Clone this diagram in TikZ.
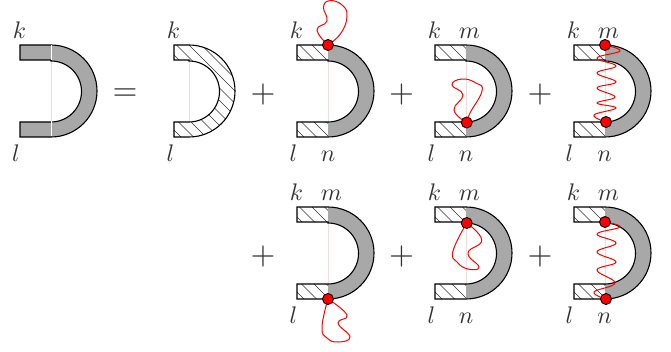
\documentclass[tikz,border=0pt]{standalone}
\usepackage{amsmath}
\definecolor{ink}{HTML}{333333}
\definecolor{fillgray}{HTML}{A8A8A8}
\definecolor{seam}{HTML}{F0DCDC}
\newcommand{\barlen}{31}
\newcommand{\Dpath}{(0,0) -- (\barlen,0) arc (90:-90:46) -- (0,-92) -- (0,-77) -- (\barlen,-77) arc (-90:90:30.5) -- (\barlen,-15) -- (0,-15) -- cycle}
% #1 = left edge x, #2 = top y (image px), #3 = hatch up to x
\newcommand{\Dhatch}[3]{%
  \begin{scope}[shift={(#1,351-#2)}]
    \begin{scope}
      \clip \Dpath;
      \clip (-1,1) rectangle (#3,-93);
      \foreach \t in {-110,-97.5,...,120} \draw[hatchline] (\t,0) -- ++(100,-100);
    \end{scope}
  \end{scope}}
\newcommand{\Dgray}[3]{%
  \begin{scope}[shift={(#1,351-#2)}]
    \begin{scope}
      \clip \Dpath;
      \fill[fillgray] (#3,1) rectangle (90,-93);
    \end{scope}
  \end{scope}}
\newcommand{\Doutline}[2]{%
  \begin{scope}[shift={(#1,351-#2)}]
    \draw[seamline] (\barlen,-15) -- (\barlen,-77);
    \draw[outline] \Dpath;
  \end{scope}}
\newcommand{\Dhalf}[2]{\Dhatch{#1}{#2}{31}\Dgray{#1}{#2}{31}\Doutline{#1}{#2}}
\tikzset{
  x=1pt,y=1pt,
  hatchline/.style={line width=0.6pt,ink},
  seamline/.style={line width=0.4pt,seam},
  outline/.style={line width=1.1pt,black,line join=miter},
  lab/.style={inner sep=0,outer sep=0,anchor=base,text=ink,scale=2.4},
  opr/.style={inner sep=0,outer sep=0,text=ink,scale=3.2},
  vertexdot/.style={circle,draw=black,fill=red,line width=0.9pt,minimum size=11pt,inner sep=0},
  gluon/.style={red,line width=1pt}
}
\begin{document}
\begin{tikzpicture}
\useasboundingbox (0,0) rectangle (671,351);
% row 1
\Dgray{20}{45}{-5}
\Doutline{20}{45}
\draw[white,line width=0.4pt] (51,305.5) -- (51,290.5) (51,229.5) -- (51,214.5);
\begingroup
\renewcommand{\barlen}{15}
\Dhatch{174}{45}{90}\Doutline{174}{45}
\endgroup
\Dhalf{297}{45}\Dhalf{435}{45}\Dhalf{574}{45}
% row 2
\Dhalf{297}{207}\Dhalf{435}{207}\Dhalf{574}{207}
% operators
\node[opr] (eq) at (125,256.5) {$=$};
\node[opr] (p1) at (263,256.5) {$+$};
\node[opr] (p2) at (401.5,256.5) {$+$};
\node[opr] (p3) at (540,256.5) {$+$};
\node[opr] (p4) at (263,94.5) {$+$};
\node[opr] (p5) at (401.5,94.5) {$+$};
\node[opr] (p6) at (540,94.5) {$+$};
% labels row 1
\node[lab] (k1) at (19.5,312) {$k$};
\node[lab] (l1) at (16,189.5) {$l$};
\node[lab] (k2) at (173.5,312) {$k$};
\node[lab] (l2) at (170.5,189.5) {$l$};
\node[lab] (k3) at (296.5,312) {$k$};
\node[lab] (l3) at (293.5,189.5) {$l$};
\node[lab] (n3) at (328,189.5) {$n$};
\node[lab] (k4) at (434.5,312) {$k$};
\node[lab] (m4) at (469.5,312) {$m$};
\node[lab] (l4) at (431.5,189.5) {$l$};
\node[lab] (n4) at (466,189.5) {$n$};
\node[lab] (k5) at (573.5,312) {$k$};
\node[lab] (m5) at (608.5,312) {$m$};
\node[lab] (l5) at (569.5,189.5) {$l$};
\node[lab] (n5) at (604.5,189.5) {$n$};
% labels row 2
\node[lab] (k6) at (296.5,150.5) {$k$};
\node[lab] (m6) at (331.5,150.5) {$m$};
\node[lab] (l6) at (293.5,28) {$l$};
\node[lab] (k7) at (434.5,150.5) {$k$};
\node[lab] (m7) at (469.5,150.5) {$m$};
\node[lab] (l7) at (431.5,28) {$l$};
\node[lab] (n7) at (466,28) {$n$};
\node[lab] (k8) at (573.5,150.5) {$k$};
\node[lab] (m8) at (608.5,150.5) {$m$};
\node[lab] (l8) at (569.5,28) {$l$};
\node[lab] (n8) at (604.5,28) {$n$};
% vertices as coordinates first
\coordinate (a3) at (328,306);
\coordinate (a4) at (466.7,228.5);
\coordinate (a5t) at (605,306);
\coordinate (a5b) at (606,229);
\coordinate (a6) at (328,52);
\coordinate (a7) at (466.7,128);
\coordinate (a8t) at (605,129);
\coordinate (a8b) at (606,52);
% red lines
\draw[gluon] plot[smooth,tension=0.8] coordinates {(a3) (317,321) (327,330) (323.5,344) (330,350.3) (342,346) (347,335) (341,318) (a3)};
\draw[gluon] plot[smooth,tension=0.8] coordinates {(a4) (454,241) (463,256) (452,266) (462,272) (476,268) (482,260) (470,238) (a4)};
\draw[gluon] plot[smooth,tension=0.7] coordinates {(a5t) (620,300) (597,293) (616,285) (597,278) (616,269) (597,263) (615,254) (597,248) (616,243) (594,236) (a5b)};
\draw[gluon] plot[smooth,tension=0.8] coordinates {(a6) (347,36) (338,28) (350,14) (338,9) (327,13) (322,24) (a6)};
\draw[gluon] plot[smooth,tension=0.8] coordinates {(a7) (481.7,111) (468,98) (479,84) (468,82) (457,89) (453,100) (a7)};
\draw[gluon] plot[smooth,tension=0.7] coordinates {(a8t) (620,124) (597,117) (616,108) (597,99) (616,89) (597,81) (615,68) (594,59) (a8b)};
% red dots
\node[vertexdot] (d3) at (a3) {};
\node[vertexdot] (d4) at (a4) {};
\node[vertexdot] (d5t) at (a5t) {};
\node[vertexdot] (d5b) at (a5b) {};
\node[vertexdot] (d6) at (a6) {};
\node[vertexdot] (d7) at (a7) {};
\node[vertexdot] (d8t) at (a8t) {};
\node[vertexdot] (d8b) at (a8b) {};
\end{tikzpicture}
\end{document}
